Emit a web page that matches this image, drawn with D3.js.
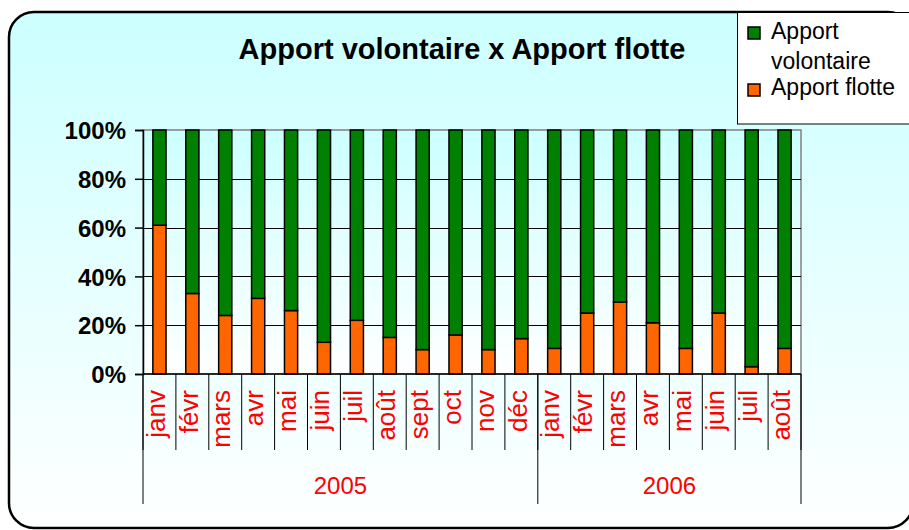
<!DOCTYPE html>
<html>
<head>
<meta charset="utf-8">
<script src="https://cdn.jsdelivr.net/npm/d3@7"></script>
<style>
  body { margin: 0; background: #ffffff; }
  svg { display: block; font-family: "Liberation Sans", Arial, sans-serif; }
</style>
</head>
<body>
<div id="chart"></div>
<script>
// data
const months = ["janv", "févr", "mars", "avr", "mai", "juin", "juil", "août", "sept", "oct", "nov", "déc",
                "janv", "févr", "mars", "avr", "mai", "juin", "juil", "août"]
const years = ["2005", "2006"]
const monthsPerYear = [12, 8]
const apportFlotte = [61, 33, 24, 31, 26, 13, 22, 15, 10, 16, 10, 14.5,
                      10.5, 25, 29.5, 21, 10.5, 25, 3, 10.5]
const apportVolontaire = [39, 67, 76, 69, 74, 87, 78, 85, 90, 84, 90, 85.5,
                          89.5, 75, 70.5, 79, 89.5, 75, 97, 89.5]
const yTicks = [0, 0.2, 0.4, 0.6, 0.8, 1]
const seriesNames = ["Apport volontaire", "Apport flotte"]
const colors = {"Apport volontaire": "#008000", "Apport flotte": "#ff6600"}

// ----------------------------------------------------------
const width = 909
const height = 530
const plot = {left: 143, top: 130, right: 801, bottom: 374}

const svg = d3.select("div#chart").append("svg").attr("width", width).attr("height", height)

//Gradients:
const defs = svg.append("defs")
const bgGrad = defs.append("linearGradient").attr("id", "bgGrad").attr("x1", 0).attr("y1", 0).attr("x2", 0).attr("y2", 1)
bgGrad.append("stop").attr("offset", "0%").attr("stop-color", "#ccffff")
bgGrad.append("stop").attr("offset", "100%").attr("stop-color", "#ffffff")
const plotGrad = defs.append("linearGradient").attr("id", "plotGrad").attr("x1", 0).attr("y1", 0).attr("x2", 0).attr("y2", 1)
plotGrad.append("stop").attr("offset", "0%").attr("stop-color", "#ccffff")
plotGrad.append("stop").attr("offset", "100%").attr("stop-color", "#ffffff")

//Frame:
svg.append("rect")
    .attr("x", 9).attr("y", 12)
    .attr("width", 904).attr("height", 516)
    .attr("rx", 25).attr("ry", 25)
    .attr("fill", "url(#bgGrad)")
    .attr("stroke", "#000000")
    .attr("stroke-width", 2.5)

//Title:
svg.append("text")
    .text("Apport volontaire x Apport flotte")
    .attr("x", 462).attr("y", 59)
    .attr("text-anchor", "middle")
    .style("font-size", "29px")
    .style("font-weight", "bold")

//Scales:
const keys = months.map((m, i) => i)
const x = d3.scaleBand().domain(keys).range([plot.left, plot.right]).paddingInner(0.6).paddingOuter(0.3)
const xStep = (plot.right - plot.left) / months.length
const y = d3.scaleLinear().domain([0, 1]).range([plot.bottom, plot.top])

//Plot area:
svg.append("rect")
    .attr("x", plot.left).attr("y", plot.top)
    .attr("width", plot.right - plot.left).attr("height", plot.bottom - plot.top)
    .attr("fill", "url(#plotGrad)")
    .attr("stroke", "#808080")
    .attr("stroke-width", 1.5)

//Grid:
svg.append("g").attr("id", "grid")
    .selectAll("line").data(yTicks.slice(1, -1)).enter().append("line")
    .attr("x1", plot.left).attr("x2", plot.right)
    .attr("y1", d => Math.round(y(d)) + 0.5).attr("y2", d => Math.round(y(d)) + 0.5)
    .attr("stroke", "#000000")
    .attr("stroke-width", 1)

//Y axis:
const yAxis = d3.axisLeft(y).tickValues(yTicks).tickFormat(d3.format(".0%")).tickSize(8).tickPadding(9)
const yAxisGroup = svg.append("g").attr("id", "yAxisGroup").attr("transform", `translate(${plot.left}, 0)`).call(yAxis)
yAxisGroup.select(".domain").attr("stroke", "#000000").attr("stroke-width", 1.5)
yAxisGroup.selectAll(".tick line").attr("stroke", "#000000").attr("stroke-width", 1.5)
yAxisGroup.selectAll(".tick text")
    .attr("fill", "#000000")
    .attr("dy", "0.36em")
    .style("font-family", "'Liberation Sans', Arial, sans-serif")
    .style("font-size", "24px")
    .style("font-weight", "bold")

//Stacked bars:
const table = keys.map(i => ({i: i, "Apport flotte": apportFlotte[i] / 100, "Apport volontaire": apportVolontaire[i] / 100}))
const stack = d3.stack().keys(["Apport flotte", "Apport volontaire"])
const layers = stack(table)

const barGroup = svg.append("g").attr("id", "barGroup")
layers.forEach(layer => {
    barGroup.selectAll("rect." + layer.key.replace(" ", ""))
        .data(layer).enter().append("rect")
        .attr("class", layer.key.replace(" ", ""))
        .attr("x", d => x(d.data.i))
        .attr("y", d => y(d[1]))
        .attr("width", x.bandwidth())
        .attr("height", d => y(d[0]) - y(d[1]))
        .attr("fill", colors[layer.key])
        .attr("stroke", "#000000")
        .attr("stroke-width", 1.5)
})

//X axis line:
svg.append("line")
    .attr("x1", plot.left).attr("x2", plot.right)
    .attr("y1", plot.bottom).attr("y2", plot.bottom)
    .attr("stroke", "#000000").attr("stroke-width", 1.5)

//Month ticks and labels:
const xAxisGroup = svg.append("g").attr("id", "xAxisGroup")
xAxisGroup.selectAll("line.monthTick").data(d3.range(months.length + 1)).enter().append("line")
    .attr("class", "monthTick")
    .attr("x1", d => plot.left + d * xStep).attr("x2", d => plot.left + d * xStep)
    .attr("y1", plot.bottom).attr("y2", 450)
    .attr("stroke", "#000000").attr("stroke-width", 1)

xAxisGroup.selectAll("text.month").data(keys).enter().append("text")
    .attr("class", "month")
    .text(d => months[d])
    .attr("transform", d => `translate(${x(d) + x.bandwidth() / 2}, 390) rotate(-90)`)
    .attr("text-anchor", "end")
    .attr("dy", "0.2em")
    .attr("fill", "#ff0000")
    .style("font-size", "26px")

//Year ticks and labels:
const yearStart = [0, monthsPerYear[0]]
const yearEdges = [0, monthsPerYear[0], monthsPerYear[0] + monthsPerYear[1]]
xAxisGroup.selectAll("line.yearTick").data(yearEdges).enter().append("line")
    .attr("class", "yearTick")
    .attr("x1", d => plot.left + d * xStep).attr("x2", d => plot.left + d * xStep)
    .attr("y1", plot.bottom).attr("y2", 504)
    .attr("stroke", "#000000").attr("stroke-width", 1)

xAxisGroup.selectAll("text.year").data(years).enter().append("text")
    .attr("class", "year")
    .text(d => d)
    .attr("x", (d, i) => plot.left + (yearStart[i] + monthsPerYear[i] / 2) * xStep)
    .attr("y", 494)
    .attr("text-anchor", "middle")
    .attr("fill", "#ff0000")
    .style("font-size", "24px")

//Legend:
const legend = svg.append("g").attr("id", "legend")
legend.append("rect")
    .attr("x", 737.5).attr("y", 12.5)
    .attr("width", 190).attr("height", 111.5)
    .attr("fill", "#ffffff")
    .attr("stroke", "#000000").attr("stroke-width", 1)

legend.append("rect").attr("x", 748).attr("y", 27).attr("width", 12).attr("height", 12)
    .attr("fill", colors["Apport volontaire"]).attr("stroke", "#000000").attr("stroke-width", 1.5)
legend.append("text").attr("x", 771).attr("y", 39).text("Apport").style("font-size", "23px")
legend.append("text").attr("x", 771).attr("y", 69).text("volontaire").style("font-size", "23px")

legend.append("rect").attr("x", 748).attr("y", 84).attr("width", 12).attr("height", 12)
    .attr("fill", colors["Apport flotte"]).attr("stroke", "#000000").attr("stroke-width", 1.5)
legend.append("text").attr("x", 771).attr("y", 95).text(seriesNames[1]).style("font-size", "23px")
</script>
</body>
</html>
